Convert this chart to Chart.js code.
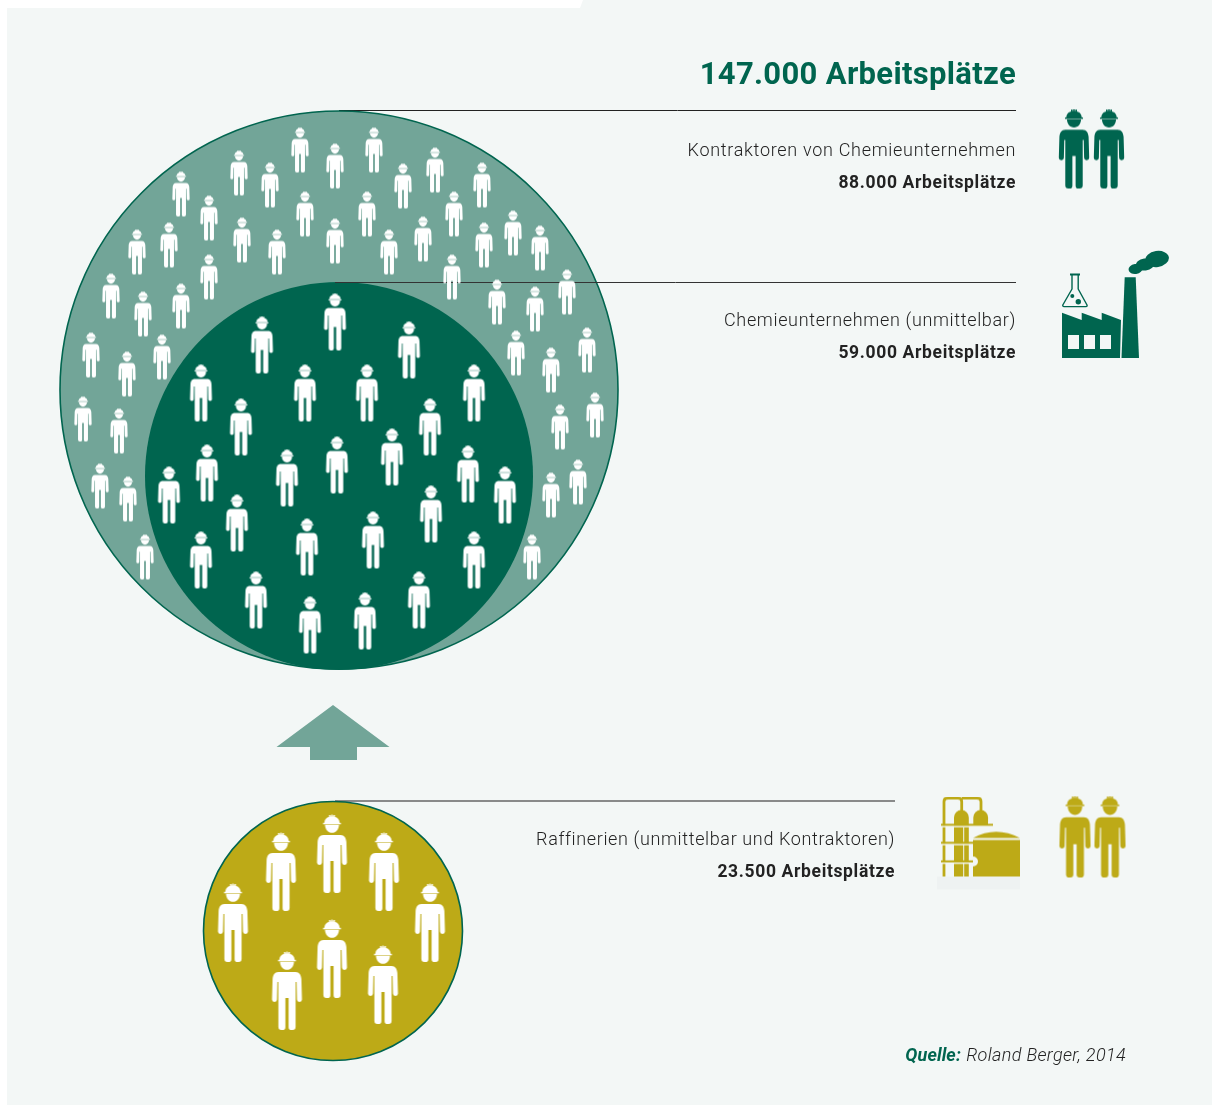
<!DOCTYPE html>
<html lang="de">
<head>
<meta charset="utf-8">
<title>147.000 Arbeitsplätze</title>
<script src="https://cdn.jsdelivr.net/npm/chart.js@4/dist/chart.umd.min.js"></script>
<style>
html,body{margin:0;padding:0;background:#fff;width:1212px;height:1105px;overflow:hidden}
#panel{position:absolute;left:7px;top:0;width:1205px;height:1105px;background:#f3f7f6;
clip-path:polygon(0 8px,573px 8px,576px 0,100% 0,100% 100%,0 100%)}
#c{position:absolute;left:0;top:0}
</style>
</head>
<body>
<div id="panel"></div>
<canvas id="c" width="1212" height="1105"></canvas>
<script>
// ---------- Data ----------
const totalLabel = "147.000 Arbeitsplätze";
const categories = ["Kontraktoren von Chemieunternehmen","Chemieunternehmen (unmittelbar)","Raffinerien (unmittelbar und Kontraktoren)"];
const jobLabels = ["88.000 Arbeitsplätze","59.000 Arbeitsplätze","23.500 Arbeitsplätze"];
const sourceLabels = ["Quelle:","Roland Berger, 2014"];

const outerCircle = [[339,390]];
const innerCircle = [[339,476]];
const refineryCircle = [[333,931]];

const contractorWorkers = [[300,150],[374,150],[239,173],[335,166],[270,185],[403,186],[435,170],[482,185],[181,194],[209,218],[305,214],[367,214],[454,214],[242,240],[335,241],[423,239],[277,252],[389,252],[513,233],[484,245],[540,248],[137,252],[169,245],[209,277],[452,277],[111,296],[143,314],[181,306],[497,302],[535,309],[567,292],[91,355],[127,374],[162,357],[516,353],[551,370],[587,350],[83,419],[119,431],[595,415],[560,427],[100,486],[128,499],[578,482],[551,495],[145,557],[532,557]];
const chemistryWorkers = [[335,322],[262,345],[409,350],[201,393],[305,393],[367,393],[474,393],[241,427],[430,427],[207,473],[287,478],[337,465],[392,457],[468,474],[505,495],[169,495],[431,514],[237,523],[373,540],[307,547],[201,560],[474,560],[256,600],[419,600],[310,625],[365,621]];
const refineryWorkers = [[233,923],[281,872],[332,854],[384,872],[430,923],[332,959],[383,985],[287,991]];
const greenIconWorkers = [[1074,149],[1109,149]];
const goldIconWorkers = [[1075,837],[1110,837]];

const leaderTop = [[339,110.5],[1016,110.5]];
const leaderMiddle = [[335,282.5],[1016,282.5]];
const leaderBottom = [[335,801],[895,801]];
const arrowPoint = [[333,733]];
const factoryPoint = [[1116,305]];
const refineryPoint = [[979,843.5]];

// ---------- Colours ----------
const GREEN="#00654f", TEAL="#72a598", GOLD="#bdaa17", BG="#f3f7f6", WHITE="#ffffff", INK="#222222";

// ---------- Glyphs used as point styles ----------
function person(color,h){
  const u=h/78, w=Math.ceil(31*u)+2, cv=document.createElement("canvas");
  cv.width=w; cv.height=Math.ceil(h)+2;
  const g=cv.getContext("2d");
  g.translate(w/2,1); g.scale(u,u); g.fillStyle=color;
  // helmet
  g.beginPath(); g.moveTo(-7.6,8); g.bezierCurveTo(-7.6,3.5,-4,1.5,0,1.5); g.bezierCurveTo(4,1.5,7.6,3.5,7.6,8); g.closePath(); g.fill();
  g.fillRect(-2.9,0,1.5,3); g.fillRect(-.75,-.4,1.5,3); g.fillRect(1.4,0,1.5,3);
  g.fillRect(-8.9,7.8,17.8,1.5);
  // face
  g.beginPath(); g.moveTo(-7,9.7); g.lineTo(7,9.7); g.bezierCurveTo(6.8,14.5,4,17.8,0,17.8); g.bezierCurveTo(-4,17.8,-6.8,14.5,-7,9.7); g.closePath(); g.fill();
  // body
  g.beginPath();
  g.moveTo(-8.5,20); g.lineTo(8.5,20);
  g.bezierCurveTo(12.5,20,14,23,14.4,27); g.lineTo(15,47.5);
  g.arcTo(15,50,12.5,50,2.4); g.arcTo(10,50,10,47.5,2.4);
  g.lineTo(9.6,30); g.lineTo(8.6,30);
  g.lineTo(8.6,75.2); g.arcTo(8.6,78,5.6,78,3); g.lineTo(4.2,78); g.arcTo(1.6,78,1.6,75,2.8);
  g.lineTo(1.6,46); g.lineTo(-1.6,46);
  g.lineTo(-1.6,75); g.arcTo(-1.6,78,-4.2,78,2.8); g.lineTo(-5.6,78); g.arcTo(-8.6,78,-8.6,75.2,3);
  g.lineTo(-8.6,30); g.lineTo(-9.6,30);
  g.lineTo(-10,47.5); g.arcTo(-10,50,-12.5,50,2.4); g.arcTo(-15,50,-15,47.5,2.4);
  g.lineTo(-14.4,27); g.bezierCurveTo(-14,23,-12.5,20,-8.5,20); g.closePath(); g.fill();
  return cv;
}
function arrowGlyph(){
  const cv=document.createElement("canvas"); cv.width=114; cv.height=58;
  const g=cv.getContext("2d"); g.translate(-276,-704); g.fillStyle=TEAL;
  g.beginPath(); g.moveTo(333,705); g.lineTo(389.5,747); g.lineTo(357,747); g.lineTo(357,760); g.lineTo(310,760); g.lineTo(310,747); g.lineTo(276.5,747); g.closePath(); g.fill();
  return cv;
}
function factoryGlyph(){
  const cv=document.createElement("canvas"); cv.width=112; cv.height=110;
  const g=cv.getContext("2d"); g.translate(-1060,-250); g.fillStyle=GREEN; g.strokeStyle=GREEN;
  g.beginPath(); g.moveTo(1062,312.7); g.lineTo(1081.7,320); g.lineTo(1081.7,312.7); g.lineTo(1101.7,320); g.lineTo(1101.7,312.7); g.lineTo(1121,320); g.lineTo(1120,358); g.lineTo(1062,358); g.closePath(); g.fill();
  g.fillStyle=BG; [1068,1084,1100].forEach(x=>g.fillRect(x,335,11,14)); g.fillStyle=GREEN;
  g.beginPath(); g.moveTo(1124.7,277.3); g.lineTo(1135.7,277.3); g.lineTo(1139,358); g.lineTo(1121.5,358); g.closePath(); g.fill();
  [[1135.5,269,7,5],[1145,264.5,9.5,6],[1157,259,12,8]].forEach(e=>{g.beginPath();g.ellipse(e[0],e[1],e[2],e[3],-.15,0,7);g.fill();});
  g.lineWidth=1.4; g.lineJoin="round";
  g.beginPath(); g.moveTo(1072,275); g.lineTo(1072,289); g.lineTo(1062.8,305); g.quadraticCurveTo(1062.5,306.6,1064,306.6); g.lineTo(1086,306.6); g.quadraticCurveTo(1087.5,306.6,1087,305); g.lineTo(1078.2,289); g.lineTo(1078.2,275); g.stroke();
  g.fillRect(1070,273.5,10,2);
  g.beginPath(); g.arc(1072.3,296,2,0,7); g.fill(); g.beginPath(); g.arc(1078.3,301.7,2.7,0,7); g.fill();
  return cv;
}
function refineryGlyph(){
  const cv=document.createElement("canvas"); cv.width=84; cv.height=94;
  const g=cv.getContext("2d"); g.translate(-937,-797); g.fillStyle="#eef2f2"; g.fillRect(937,877,83,13);
  g.fillStyle=GOLD; g.strokeStyle=GOLD; g.lineWidth=2.8;
  g.beginPath(); g.moveTo(944,877); g.lineTo(944,802); g.quadraticCurveTo(944,798.5,948,798.5); g.lineTo(958,798.5); g.quadraticCurveTo(961.7,798.5,961.7,802); g.lineTo(961.7,815); g.stroke();
  g.beginPath(); g.moveTo(962,798.5); g.lineTo(977,798.5); g.quadraticCurveTo(981,798.5,981,802); g.lineTo(981,815); g.stroke();
  g.beginPath(); g.moveTo(954,877); g.lineTo(954,818); g.arc(961.4,818,7.4,Math.PI,0); g.lineTo(968.8,877); g.closePath(); g.fill();
  g.beginPath(); g.moveTo(973.3,826); g.lineTo(973.3,818); g.arc(980.7,818,7.4,Math.PI,0); g.lineTo(988,826); g.closePath(); g.fill();
  g.fillStyle=BG; g.fillRect(941,826.2,52,1.6); g.fillRect(941,844.2,32,1.6); g.fillRect(941,862.8,32,1.6); g.fillRect(963.2,828,1,49);
  g.fillStyle=GOLD; g.fillRect(941,824.3,52,2); g.fillRect(941,842.3,32,2); g.fillRect(941,860.9,32,2);
  g.beginPath(); g.moveTo(973,838.5); g.quadraticCurveTo(996,826,1020,838.5); g.closePath(); g.fill();
  g.beginPath(); g.moveTo(973,840.5); g.lineTo(1020,840.5); g.lineTo(1020,877); g.lineTo(973,877); g.lineTo(973,867); g.arc(973,862,5,Math.PI/2,-Math.PI/2,true); g.closePath(); g.fill();
  return cv;
}

// ---------- Helpers ----------
const pts = a => a.map(p=>({x:p[0],y:p[1]}));
const marks = (data,style,order) => ({type:"scatter",data:pts(data),pointStyle:style,pointRadius:10,order,clip:false});
const disc = (data,r,fill,stroke,sw,order) => ({type:"scatter",data:pts(data),pointStyle:"circle",pointRadius:r,backgroundColor:fill,borderColor:stroke,borderWidth:sw,order,clip:false});
const rule = (data,color,w,order) => ({type:"line",data:pts(data),borderColor:color,borderWidth:w,pointRadius:0,order,clip:false,fill:false});

const FONT='Roboto, "Open Sans", sans-serif';
const texts = [
  {t:totalLabel,x:1016,y:84,font:'700 31px '+FONT,c:GREEN,ls:"0.33px"},
  {t:categories[0],x:1016,y:156,font:'300 18px '+FONT,c:INK,ls:"0.7px"},
  {t:jobLabels[0],x:1016,y:188,font:'700 17.5px '+FONT,c:INK,ls:"0.65px"},
  {t:categories[1],x:1016,y:326,font:'300 18px '+FONT,c:INK,ls:"0.65px"},
  {t:jobLabels[1],x:1016,y:358,font:'700 17.5px '+FONT,c:INK,ls:"0.65px"},
  {t:categories[2],x:895,y:845,font:'300 18px '+FONT,c:INK,ls:"0.63px"},
  {t:jobLabels[2],x:895,y:877,font:'700 17.5px '+FONT,c:INK,ls:"0.65px"},
  {t:sourceLabels[1],x:1126,y:1061,font:'italic 300 18px '+FONT,c:INK,ls:"0.35px"},
  {t:sourceLabels[0],x:961,y:1061,font:'italic 700 18px '+FONT,c:GREEN,ls:"0.1px"}
];
const textPlugin = {id:"textPlugin",afterDatasetsDraw(chart){
  const g=chart.ctx,sx=chart.scales.x,sy=chart.scales.y;
  g.save(); g.textAlign="right"; g.textBaseline="alphabetic";
  texts.forEach(o=>{g.font=o.font; g.fillStyle=o.c; g.letterSpacing=o.ls; g.fillText(o.t,sx.getPixelForValue(o.x),sy.getPixelForValue(o.y));});
  g.restore();
}};

new Chart(document.getElementById("c"),{
  type:"scatter",
  data:{datasets:[
    marks(contractorWorkers,person(WHITE,45),1),
    marks(chemistryWorkers,person(WHITE,57),1),
    marks(refineryWorkers,person(WHITE,78),1),
    marks(greenIconWorkers,person(GREEN,79),1),
    marks(goldIconWorkers,person(GOLD,81),1),
    marks(arrowPoint,arrowGlyph(),1),
    marks(factoryPoint,factoryGlyph(),1),
    marks(refineryPoint,refineryGlyph(),1),
    disc(innerCircle,194,GREEN,GREEN,0,2),
    disc(refineryCircle,129.5,GOLD,GREEN,1.6,2),
    disc(outerCircle,279,TEAL,GREEN,1.6,3),
    rule(leaderTop,"#222222",1,4),
    rule(leaderMiddle,"#333333",1,1),
    rule(leaderBottom,"#666666",1.4,3)
  ]},
  plugins:[textPlugin],
  options:{
    responsive:false,animation:false,events:[],
    layout:{padding:0,autoPadding:false},
    plugins:{legend:{display:false},tooltip:{enabled:false},title:{display:false}},
    scales:{
      x:{type:"linear",min:0,max:1212,display:false},
      y:{type:"linear",min:0,max:1105,reverse:true,display:false}
    }
  }
});
</script>
</body>
</html>
